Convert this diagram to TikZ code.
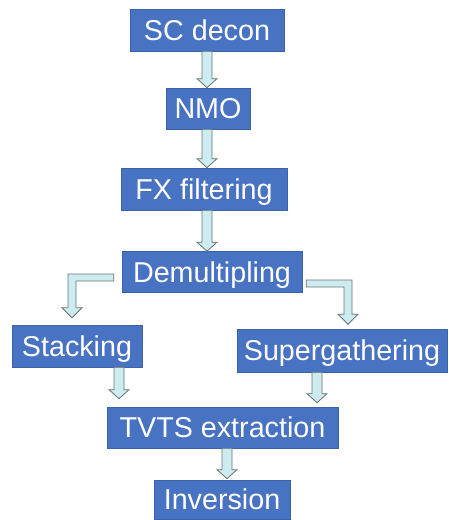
\documentclass[tikz,border=0pt]{standalone}
\usepackage{fontspec}
\setmainfont{Liberation Sans}
\usetikzlibrary{calc}
\definecolor{boxblue}{RGB}{72,114,194}
\definecolor{boxedge}{RGB}{62,98,170}
\definecolor{arrfill}{RGB}{204,236,239}
\definecolor{arredge}{RGB}{105,115,118}
\tikzset{
  stepbox/.style={fill=boxblue, draw=boxedge, line width=0.6pt, text=white,
    font=\fontsize{28.7pt}{30pt}\selectfont, inner sep=0pt,
    text height=20.6pt, text depth=0pt, align=center},
  blockarr/.style={fill=arrfill, draw=arredge, line width=0.8pt, line join=miter}
}
% straight down block arrow: #1 top centre, #2 tip
\newcommand\dnarr[2]{%
  \draw[blockarr] let \p1=(#1), \p2=(#2) in
    (\x1-5pt,\y1) -- (\x1-5pt,\y2+9pt) -- (\x1-10pt,\y2+9pt) -- (\x2,\y2)
    -- (\x1+10pt,\y2+9pt) -- (\x1+5pt,\y2+9pt) -- (\x1+5pt,\y1) -- cycle;}
\begin{document}
\begin{tikzpicture}[x=1pt,y=-1pt]
\useasboundingbox (0,0) rectangle (449,520);
\node[stepbox, minimum width=154pt, minimum height=42pt] (sc)   at (207,30)    {SC decon};
\node[stepbox, minimum width=84pt,  minimum height=41pt] (nmo)  at (208,108.5) {NMO};
\node[stepbox, minimum width=166pt, minimum height=42pt] (fx)   at (204,189)   {FX filtering};
\node[stepbox, minimum width=180pt, minimum height=41pt] (dem)  at (212,272)   {Demultipling};
\node[stepbox, minimum width=130pt, minimum height=42pt] (stk)  at (77,346)    {Stacking};
\node[stepbox, minimum width=210pt, minimum height=43pt] (sup)  at (342,350.5) {Supergathering};
\node[stepbox, minimum width=231pt, minimum height=41pt] (tvts) at (222.5,427.5) {TVTS extraction};
\node[stepbox, minimum width=136pt, minimum height=39pt] (inv)  at (222,499.5) {Inversion};

% straight arrows
\coordinate (a1) at (sc.south);
\dnarr{a1}{a1 |- nmo.north}
\coordinate (a2) at ([xshift=-1pt]nmo.south);
\dnarr{a2}{a2 |- fx.north}
\coordinate (a3) at ([xshift=3pt]fx.south);
\dnarr{a3}{a3 |- dem.north}
\coordinate (a6) at ([xshift=42pt]stk.south);
\coordinate (a6t) at ([yshift=8pt]tvts.north);
\dnarr{a6}{a6 |- a6t}
\coordinate (a7) at ([xshift=-25pt]sup.south);
\coordinate (a7t) at ([yshift=4pt]tvts.north);
\dnarr{a7}{a7 |- a7t}
\coordinate (a8) at ([xshift=4.5pt]tvts.south);
\coordinate (a8t) at ([yshift=1pt]inv.north);
\dnarr{a8}{a8 |- a8t}

% bent arrows from Demultipling
\coordinate (b1s) at ([xshift=-8pt,yshift=-5.5pt]dem.west);
\coordinate (b1t) at ([xshift=-5pt,yshift=7pt]stk.north);
\draw[blockarr] let \p1=(b1s), \p2=(b1t) in
  (\x1,\y1+3.5pt) -- (\x2-4pt,\y1+3.5pt) -- (\x2-4pt,\y2+10pt) -- (\x2-10pt,\y2+10pt)
  -- (\x2,\y2) -- (\x2+10pt,\y2+10pt) -- (\x2+4pt,\y2+10pt) -- (\x2+4pt,\y1-3.5pt)
  -- (\x1,\y1-3.5pt) -- cycle;
\coordinate (b2s) at ([xshift=4pt,yshift=-11.5pt]dem.east);
\coordinate (b2t) at ([xshift=6pt,yshift=4.5pt]sup.north);
\draw[blockarr] let \p1=(b2s), \p2=(b2t) in
  (\x1,\y1+3.5pt) -- (\x2+4pt,\y1+3.5pt) -- (\x2+4pt,\y2+10pt) -- (\x2+10pt,\y2+10pt)
  -- (\x2,\y2) -- (\x2-10pt,\y2+10pt) -- (\x2-4pt,\y2+10pt) -- (\x2-4pt,\y1-3.5pt)
  -- (\x1,\y1-3.5pt) -- cycle;
\end{tikzpicture}
\end{document}
